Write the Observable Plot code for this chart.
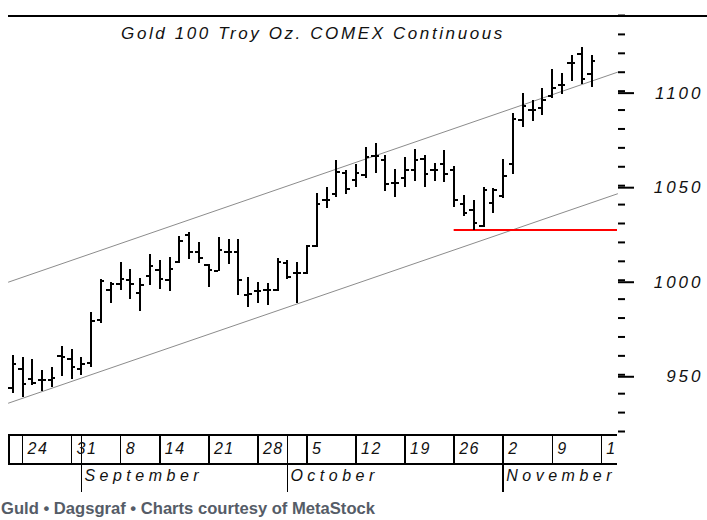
<!DOCTYPE html>
<html><head><meta charset="utf-8">
<script src="https://cdn.jsdelivr.net/npm/d3@7"></script>
<script src="https://cdn.jsdelivr.net/npm/@observablehq/plot@0.6"></script>
<style>
body{margin:0;background:#fff;}
#wrap{width:707px;height:520px;background:#fff;overflow:hidden;}
#wrap svg{display:block;}
#caption{font:bold 16.6px "Liberation Sans",Arial,sans-serif;color:#555c67;margin:6px 0 0 1px;white-space:nowrap;line-height:20px;}
</style></head>
<body><div id="wrap"></div>
<script>
// ---- data ----
const title = "Gold 100 Troy Oz. COMEX Continuous";
const dates = ["2009-08-21","2009-08-24","2009-08-25","2009-08-26","2009-08-27","2009-08-28",
  "2009-08-31","2009-09-01","2009-09-02","2009-09-03","2009-09-04",
  "2009-09-08","2009-09-09","2009-09-10","2009-09-11",
  "2009-09-14","2009-09-15","2009-09-16","2009-09-17","2009-09-18",
  "2009-09-21","2009-09-22","2009-09-23","2009-09-24","2009-09-25",
  "2009-09-28","2009-09-29","2009-09-30","2009-10-01","2009-10-02",
  "2009-10-05","2009-10-06","2009-10-07","2009-10-08","2009-10-09",
  "2009-10-12","2009-10-13","2009-10-14","2009-10-15","2009-10-16",
  "2009-10-19","2009-10-20","2009-10-21","2009-10-22","2009-10-23",
  "2009-10-26","2009-10-27","2009-10-28","2009-10-29","2009-10-30",
  "2009-11-02","2009-11-03","2009-11-04","2009-11-05","2009-11-06",
  "2009-11-09","2009-11-10","2009-11-11","2009-11-12","2009-11-13"];
const open  = [943,953,948,947,947.5,959.7, 958.6,953.2,956,979.1,994.6, 997.8,999.9,993.4,1002.5,
  1005.2,999.9,1009.6,1023.7,1014.9, 1007.8,1004.8,1014.9,1014.9,992, 994.2,994.6,994.6,1008.9,1003.8,
  1003.8,1017.9,1042.2,1045.7,1056.6, 1052.8,1055.4,1065.5,1063.7,1051.3, 1054,1058.1,1064.3,1058.1,1061.6,
  1058.1,1040.5,1036.9,1028.5,1040.8, 1044.8,1061.6,1084.5,1089.8,1090.9, 1097.2,1103.5,1114.8,1119.9,1109.2];
const high  = [960,959.3,958,952.3,953.7,965, 963.2,959,983.1,1000.3,998.8, 1009.6,1005.6,1001.1,1013.6,
  1010.5,1011.9,1023.2,1025.4,1020.2, 1008.4,1022.5,1021.4,1021.4,1001.3, 999,998.2,1011.7,1010.5,1009.6,
  1018.4,1045.7,1048.9,1063.4,1058.1, 1061.1,1070.4,1072.2,1066,1058.4, 1065.1,1069,1066,1061.9,1068.6,
  1060.2,1044.8,1042.2,1048.9,1048.4, 1063.7,1088.4,1098.6,1095.1,1101.3, 1111.3,1109.2,1118.9,1123,1118.9];
const low   = [940,938.2,944.4,941.4,943.5,949.1, 947.4,949.7,953.7,977.3,987.6, 994.6,989.9,983.5,997.3,
  995,994.2,1009,1011,1009, 996,1004.8,1008.4,992,985.8, 987.6,986.7,994.2,1000.3,987.6,
  1003.1,1017.5,1037.8,1043.9,1045.2, 1049.2,1053.7,1056.6,1047.1,1043.9, 1049.2,1052.4,1049.2,1052.2,1051.7,
  1038.7,1033.7,1026.5,1028.1,1035.2, 1043.1,1056,1081,1084.1,1087.2, 1096,1098.3,1105.3,1103.5,1102.1];
const close = [955.5,945,945.6,947,948.2,959.3, 954,955.5,978.7,999.4,997.8, 1000.8,997.8,997.7,1007.3,
  1000.8,1006.1,1021,1014.9,1011.9, 1005.2,1015.8,1014.9,999.9,992.9, 994.2,994.6,1009.6,1001.6,1003.8,
  1017.9,1040.1,1042.2,1057.2,1048.4, 1056.6,1065.1,1065.5,1051,1051.3, 1058.1,1063.4,1056.3,1058.1,1056.3,
  1042.2,1035.3,1030.2,1047.9,1047.5, 1054.9,1085.4,1091.9,1089.8,1095.5, 1101.8,1103.5,1114.8,1106.6,1116.2];

const priceLabels = [950, 1000, 1050, 1100];
const priceMinor = [920, 930, 940, 950, 960, 970, 980, 990, 1000, 1010, 1020, 1030, 1040, 1050,
  1060, 1070, 1080, 1090, 1100, 1110, 1120, 1130, 1140];
const weekStarts = ["2009-08-24","2009-08-31","2009-09-08","2009-09-14","2009-09-21","2009-09-28",
  "2009-10-05","2009-10-12","2009-10-19","2009-10-26","2009-11-02","2009-11-09","2009-11-16"];
const weekLabels = ["24","31","8","14","21","28","5","12","19","26","2","9","16"];
const monthStarts = ["2009-09-01","2009-10-01","2009-11-02"];
const monthLabels = ["September","October","November"];
// trend channel (price at left and right edge of chart) and support level
const upperChannel = [999, 1110];
const lowerChannel = [935, 1045.7];
const supportLevel = 1026.5;
const supportFrom = "2009-10-26";

// ---- derived ----
const idx = d => { const k = dates.indexOf(d); return k < 0 ? dates.length : k; };
const rows = dates.map((d, i) => ({i, date: d, open: open[i], high: high[i], low: low[i], close: close[i]}));
const xDomain = [-0.43, 61.65];
const channel = [
  ...xDomain.map((x, k) => ({x, y: upperChannel[k], s: "upper"})),
  ...xDomain.map((x, k) => ({x, y: lowerChannel[k], s: "lower"}))
];
const weekIdx = weekStarts.map(idx);
const monthIdx = monthStarts.map(idx);
const font = "'Liberation Sans', Arial, Helvetica, sans-serif";
const crisp = "crispEdges";

const main = Plot.plot({
  width: 707, height: 433,
  marginLeft: 8, marginRight: 90, marginTop: 15, marginBottom: 2,
  x: {domain: xDomain, axis: null},
  y: {domain: [920, 1140], axis: null},
  style: {fontFamily: font, background: "white", color: "black"},
  marks: [
    Plot.ruleY([1140], {stroke: "black", strokeWidth: 2, insetRight: -90, shapeRendering: crisp}),
    Plot.text([title], {text: d => d, frameAnchor: "top", lineAnchor: "middle", dy: 18, fontSize: 17,
      fontStyle: "italic", fill: "#111"}),
    Plot.line(channel, {x: "x", y: "y", z: "s", stroke: "#8c8c8c", strokeWidth: 1}),
    Plot.ruleY([supportLevel], {x1: idx(supportFrom), x2: xDomain[1], stroke: "#ff0000", strokeWidth: 2}),
    Plot.ruleX(rows, {x: "i", y1: "low", y2: "high", stroke: "black", strokeWidth: 2, shapeRendering: crisp}),
    Plot.ruleY(rows, {y: "open", x1: d => d.i - 0.4, x2: "i", stroke: "black", strokeWidth: 2, shapeRendering: crisp}),
    Plot.ruleY(rows, {y: "close", x1: "i", x2: d => d.i + 0.4, stroke: "black", strokeWidth: 2, shapeRendering: crisp}),
    Plot.axisY(priceMinor, {anchor: "right", tickSize: 7, tickFormat: () => "", strokeWidth: 2}),
    Plot.axisY(priceLabels, {anchor: "right", tickSize: 16, tickPadding: 70, textAnchor: "end",
      tickFormat: d => String(d), fontSize: 17, fontStyle: "italic", strokeWidth: 2, dy: 2, fill: "#111"})
  ]
});

const axis = Plot.plot({
  width: 707, height: 60,
  marginLeft: 8, marginRight: 90, marginTop: 1, marginBottom: 1,
  x: {domain: xDomain, axis: null},
  y: {domain: [0, 2], reverse: true, axis: null},
  style: {fontFamily: font, background: "white", color: "black"},
  marks: [
    Plot.ruleY([0, 1], {stroke: "black", strokeWidth: 2, shapeRendering: crisp}),
    Plot.ruleX([xDomain[0]], {y1: 0, y2: 1, stroke: "black", strokeWidth: 2, shapeRendering: crisp}),
    Plot.ruleX(weekIdx, {y1: 0, y2: 1, stroke: "black", strokeWidth: 1.5, shapeRendering: crisp}),
    Plot.ruleX(monthIdx, {y1: 0, y2: 2, stroke: "black", strokeWidth: 1.5, shapeRendering: crisp}),
    Plot.text(weekIdx, {x: d => d, y: 0.5, text: (d, i) => weekLabels[i], textAnchor: "start", dx: 5,
      fontSize: 16, fontStyle: "italic", fill: "#111", clip: true}),
    Plot.text(monthIdx, {x: d => d, y: 1.5, text: (d, i) => monthLabels[i], textAnchor: "start", dx: 3, dy: -2,
      fontSize: 16, fontStyle: "italic", fill: "#111"})
  ]
});

// wide, old-style letter spacing of the original renderer
d3.select(main).selectAll("text").style("letter-spacing", function() {
  return /^\d+$/.test(this.textContent) ? "3px" : "2.6px";
});
d3.select(axis).selectAll("text").style("letter-spacing", function() {
  return /^\d+$/.test(this.textContent) ? "1.5px" : "4.5px";
});

const wrap = document.getElementById("wrap");
wrap.appendChild(main);
wrap.appendChild(axis);
const cap = document.createElement("div");
cap.id = "caption";
cap.textContent = "Guld • Dagsgraf • Charts courtesy of MetaStock";
wrap.appendChild(cap);
</script>
</body></html>
